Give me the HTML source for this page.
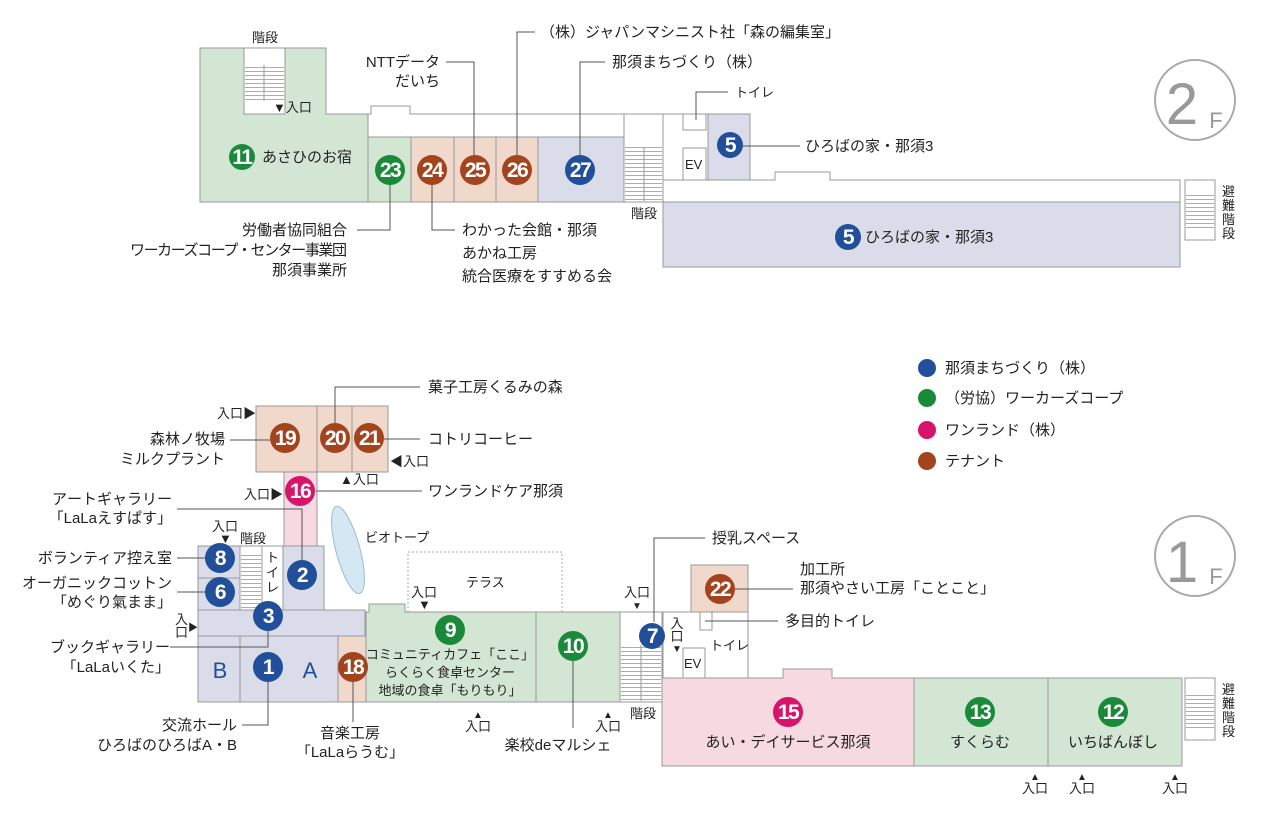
<!DOCTYPE html>
<html><head><meta charset="utf-8"><style>
body{margin:0;background:#fff}
svg{display:block;font-family:"Liberation Sans","Noto Sans CJK JP",sans-serif}
.g{fill:#d3e6d3;stroke:#999;stroke-width:1}
.p{fill:#f0d9cb;stroke:#999;stroke-width:1}
.b{fill:#dadcea;stroke:#999;stroke-width:1}
.k{fill:#f6d9e1;stroke:#999;stroke-width:1}
.w{fill:#fff;stroke:#999;stroke-width:1}
.ln{fill:none;stroke:#555;stroke-width:1}
.t{font-size:15px;fill:#222}
.s{font-size:13px;fill:#222}
.n{font-size:21px;fill:#fff;text-anchor:middle;font-weight:bold;letter-spacing:-1.5px}
</style></head><body>
<svg width="1280" height="817" viewBox="0 0 1280 817">
<defs>
<pattern id="st" width="10" height="4" patternUnits="userSpaceOnUse"><rect width="10" height="4" fill="#fff"/><line x1="0" y1="3.5" x2="10" y2="3.5" stroke="#999" stroke-width="0.8"/></pattern>
</defs>
<!-- 2F -->
<polygon class="g" points="200,48 326,48 326,114 368,114 368,202 200,202"/>
<rect class="w" x="244" y="48" width="41" height="66"/>
<rect x="245" y="65" width="39" height="36" fill="url(#st)"/>
<line x1="264" y1="65" x2="264" y2="101" stroke="#999"/>
<polyline class="ln" style="stroke:#999" points="368,114 371,114 371,106 410,106 410,114 624,114"/>
<rect class="g" x="368" y="137" width="43" height="65"/>
<rect class="p" x="411" y="137" width="43" height="65"/>
<rect class="p" x="454" y="137" width="42" height="65"/>
<rect class="p" x="496" y="137" width="42" height="65"/>
<rect class="b" x="538" y="137" width="86" height="65"/>
<rect class="w" x="624" y="114" width="39" height="88"/>
<rect x="625" y="147" width="37" height="54" fill="url(#st)"/>
<line x1="644" y1="147" x2="644" y2="201" stroke="#999"/>
<rect class="w" x="663" y="114" width="45" height="66"/>
<rect class="w" x="683" y="114" width="23" height="16"/>
<rect class="w" x="683" y="148" width="23" height="32"/>
<text class="s" x="685" y="169">EV</text>
<rect class="b" x="708" y="114" width="42" height="66"/>
<polyline class="ln" style="stroke:#999" points="750,180 775,180 775,172 830,172 830,180 1180,180 1180,202"/>
<rect class="b" x="663" y="202" width="517" height="65"/>
<line x1="663" y1="180" x2="663" y2="202" stroke="#999"/>
<rect class="w" x="1185" y="180" width="30" height="60"/>
<rect x="1186" y="195" width="28" height="35" fill="url(#st)"/>
<circle cx="1195" cy="100" r="40" fill="none" stroke="#aaa" stroke-width="2"/>
<text x="1182" y="124" font-size="58" fill="#999" text-anchor="middle">2</text>
<text x="1216" y="128" font-size="22" fill="#999" text-anchor="middle">F</text>
<text class="s" x="252" y="42">階段</text>
<text class="s" x="273" y="112">▼入口</text>
<circle cx="242" cy="157" r="13" fill="#1a8a3a"/><text class="n" x="242" y="164">11</text>
<text class="t" x="262" y="162">あさひのお宿</text>
<circle cx="390" cy="170" r="15" fill="#1a8a3a"/><text class="n" x="390" y="177">23</text>
<circle cx="432" cy="170" r="15" fill="#a3441f"/><text class="n" x="432" y="177">24</text>
<circle cx="475" cy="170" r="15" fill="#a3441f"/><text class="n" x="475" y="177">25</text>
<circle cx="517" cy="170" r="15" fill="#a3441f"/><text class="n" x="517" y="177">26</text>
<circle cx="580" cy="170" r="15" fill="#214f9a"/><text class="n" x="580" y="177">27</text>
<polyline class="ln" points="446,62 474,62 474,155"/>
<polyline class="ln" points="535,32 517,32 517,155"/>
<polyline class="ln" points="605,62 580,62 580,155"/>
<polyline class="ln" points="357,230 390,230 390,185"/>
<polyline class="ln" points="432,185 432,230 455,230"/>
<text class="t" x="440" y="67" text-anchor="end">NTTデータ</text>
<text class="t" x="440" y="86" text-anchor="end">だいち</text>
<text class="t" x="540" y="37">（株）ジャパンマシニスト社「森の編集室」</text>
<text class="t" x="612" y="67">那須まちづくり（株）</text>
<text class="t" x="347" y="235" text-anchor="end">労働者協同組合</text>
<text class="t" x="347" y="255" text-anchor="end" textLength="217">ワーカーズコープ・センター事業団</text>
<text class="t" x="347" y="275" text-anchor="end">那須事業所</text>
<text class="t" x="462" y="235">わかった会館・那須</text>
<text class="t" x="462" y="258">あかね工房</text>
<text class="t" x="462" y="281">統合医療をすすめる会</text>
<text class="s" x="631" y="218">階段</text>
<polyline class="ln" points="696,120 696,92 728,92"/>
<text class="s" x="735" y="97">トイレ</text>
<circle cx="730" cy="145" r="13" fill="#214f9a"/><text class="n" x="730" y="152">5</text>
<line class="ln" x1="743" y1="146" x2="800" y2="146"/>
<text class="t" x="805" y="151">ひろばの家・那須3</text>
<circle cx="848" cy="237" r="13" fill="#214f9a"/><text class="n" x="848" y="244">5</text>
<text class="t" x="865" y="242">ひろばの家・那須3</text>
<text class="s" x="1222" y="196">避</text><text class="s" x="1222" y="210">難</text><text class="s" x="1222" y="224">階</text><text class="s" x="1222" y="238">段</text>

<!-- Legend -->
<circle cx="927" cy="368" r="9" fill="#214f9a"/><text class="t" x="945" y="373">那須まちづくり（株）</text>
<circle cx="927" cy="398" r="9" fill="#1a8a3a"/><text class="t" x="945" y="403">（労協）ワーカーズコープ</text>
<circle cx="927" cy="430" r="9" fill="#d6146a"/><text class="t" x="945" y="435">ワンランド（株）</text>
<circle cx="927" cy="461" r="9" fill="#a3441f"/><text class="t" x="945" y="466">テナント</text>

<!-- 1F -->
<rect class="p" x="256" y="406" width="132" height="66"/>
<line x1="317" y1="406" x2="317" y2="472" stroke="#999"/>
<line x1="352" y1="406" x2="352" y2="472" stroke="#999"/>
<rect class="k" x="284" y="472" width="33" height="74"/>
<ellipse cx="348" cy="550" rx="12" ry="45" transform="rotate(-15 348 550)" fill="#d4e8f4" stroke="#9bc"/>
<rect x="408" y="552" width="154" height="60" fill="none" stroke="#aaa" stroke-dasharray="2,2"/>
<polygon class="b" points="198,546 324,546 324,610 365,610 365,636 338,636 338,702 198,702"/>
<rect class="b" x="198" y="546" width="42" height="32"/>
<rect class="b" x="198" y="578" width="42" height="32"/>
<rect class="w" x="240" y="546" width="22" height="64"/>
<rect x="241" y="555" width="20" height="54" fill="url(#st)"/>
<rect class="w" x="262" y="546" width="21" height="64"/>
<text class="s" x="266" y="562">ト</text><text class="s" x="266" y="577">イ</text><text class="s" x="266" y="592">レ</text>
<rect class="b" x="283" y="546" width="41" height="64"/>
<line x1="198" y1="636" x2="338" y2="636" stroke="#999"/>
<line x1="240" y1="636" x2="240" y2="702" stroke="#999"/>
<rect class="p" x="338" y="636" width="28" height="66"/>
<polygon class="g" points="366,612 369,612 369,604 405,604 405,612 536,612 536,702 366,702"/>
<rect class="g" x="536" y="612" width="84" height="90"/>
<rect class="w" x="620" y="612" width="42" height="90"/>
<rect x="621" y="645" width="40" height="56" fill="url(#st)"/>
<line x1="641" y1="645" x2="641" y2="701" stroke="#999"/>
<rect class="p" x="691" y="565" width="57" height="47"/>
<rect class="w" x="663" y="612" width="85" height="66"/>
<rect class="w" x="700" y="612" width="12" height="18"/>
<rect class="w" x="683" y="648" width="22" height="30"/>
<text class="s" x="684" y="668">EV</text>
<text class="s" x="710" y="650">トイレ</text>
<polygon class="k" points="662,678 783,678 783,669 832,669 832,678 914,678 914,766 662,766"/>
<rect class="g" x="914" y="678" width="134" height="88"/>
<rect class="g" x="1048" y="678" width="134" height="88"/>
<rect class="w" x="1185" y="678" width="30" height="62"/>
<rect x="1186" y="694" width="28" height="36" fill="url(#st)"/>
<circle cx="1195" cy="556" r="40" fill="none" stroke="#aaa" stroke-width="2"/>
<text x="1182" y="582" font-size="58" fill="#999" text-anchor="middle">1</text>
<text x="1216" y="584" font-size="22" fill="#999" text-anchor="middle">F</text>

<circle cx="285" cy="438" r="15" fill="#a3441f"/><text class="n" x="285" y="445">19</text>
<circle cx="335" cy="438" r="15" fill="#a3441f"/><text class="n" x="335" y="445">20</text>
<circle cx="369" cy="438" r="15" fill="#a3441f"/><text class="n" x="369" y="445">21</text>
<circle cx="300" cy="491" r="15" fill="#d6146a"/><text class="n" x="300" y="498">16</text>
<circle cx="220" cy="558" r="15" fill="#214f9a"/><text class="n" x="220" y="565">8</text>
<circle cx="220" cy="592" r="15" fill="#214f9a"/><text class="n" x="220" y="599">6</text>
<circle cx="302" cy="575" r="15" fill="#214f9a"/><text class="n" x="302" y="582">2</text>
<circle cx="268" cy="616" r="15" fill="#214f9a"/><text class="n" x="268" y="623">3</text>
<circle cx="268" cy="667" r="15" fill="#214f9a"/><text class="n" x="268" y="674">1</text>
<circle cx="353" cy="667" r="15" fill="#a3441f"/><text class="n" x="353" y="674">18</text>
<circle cx="450" cy="630" r="15" fill="#1a8a3a"/><text class="n" x="450" y="637">9</text>
<circle cx="573" cy="646" r="15" fill="#1a8a3a"/><text class="n" x="573" y="653">10</text>
<circle cx="652" cy="636" r="13" fill="#214f9a"/><text class="n" x="652" y="643">7</text>
<circle cx="720" cy="589" r="15" fill="#a3441f"/><text class="n" x="720" y="596">22</text>
<circle cx="788" cy="712" r="15" fill="#d6146a"/><text class="n" x="788" y="719">15</text>
<circle cx="980" cy="712" r="15" fill="#1a8a3a"/><text class="n" x="980" y="719">13</text>
<circle cx="1113" cy="712" r="15" fill="#1a8a3a"/><text class="n" x="1113" y="719">12</text>
<text x="220" y="678" font-size="22" fill="#214f9a" text-anchor="middle">B</text>
<text x="310" y="678" font-size="22" fill="#214f9a" text-anchor="middle">A</text>

<polyline class="ln" points="335,423 335,387 420,387"/>
<line class="ln" x1="230" y1="440" x2="270" y2="440"/>
<line class="ln" x1="384" y1="439" x2="420" y2="439"/>
<line class="ln" x1="316" y1="491" x2="422" y2="491"/>
<polyline class="ln" points="177,509 302,509 302,560"/>
<line class="ln" x1="177" y1="558" x2="205" y2="558"/>
<line class="ln" x1="177" y1="592" x2="205" y2="592"/>
<polyline class="ln" points="170,647 268,647 268,631"/>
<polyline class="ln" points="242,725 268,725 268,682"/>
<line class="ln" x1="353" y1="682" x2="353" y2="722"/>
<line class="ln" x1="573" y1="661" x2="573" y2="728"/>
<polyline class="ln" points="654,622 654,538 705,538"/>
<line class="ln" x1="735" y1="589" x2="793" y2="589"/>
<line class="ln" x1="705" y1="621" x2="778" y2="621"/>

<text class="t" x="428" y="392">菓子工房くるみの森</text>
<text class="s" x="217" y="418">入口▶</text>
<text class="t" x="225" y="444" text-anchor="end">森林ノ牧場</text>
<text class="t" x="225" y="464" text-anchor="end">ミルクプラント</text>
<text class="t" x="428" y="444">コトリコーヒー</text>
<text class="s" x="390" y="466">◀入口</text>
<text class="s" x="340" y="484">▲入口</text>
<text class="s" x="244" y="499">入口▶</text>
<text class="t" x="428" y="496">ワンランドケア那須</text>
<text class="s" x="365" y="542">ビオトープ</text>
<text class="s" x="466" y="587">テラス</text>
<text class="s" x="411" y="597">入口</text><text class="s" x="418" y="609" font-size="10">▼</text>
<text class="t" x="172" y="504" text-anchor="end">アートギャラリー</text>
<text class="t" x="172" y="523" text-anchor="end">「LaLaえすぱす」</text>
<text class="s" x="212" y="531">入口</text><text class="s" x="219" y="543" font-size="10">▼</text>
<text class="s" x="240" y="543">階段</text>
<text class="t" x="172" y="563" text-anchor="end">ボランティア控え室</text>
<text class="t" x="172" y="588" text-anchor="end">オーガニックコットン</text>
<text class="t" x="172" y="607" text-anchor="end">「めぐり氣まま」</text>
<text class="s" x="175" y="624">入</text><text class="s" x="175" y="637">口</text><text x="188" y="631" font-size="10" fill="#222">▶</text>
<text class="t" x="170" y="652" text-anchor="end">ブックギャラリー</text>
<text class="t" x="170" y="672" text-anchor="end">「LaLaいくた」</text>
<text class="t" x="237" y="730" text-anchor="end">交流ホール</text>
<text class="t" x="237" y="750" text-anchor="end">ひろばのひろばA・B</text>
<text class="t" x="350" y="738" text-anchor="middle">音楽工房</text>
<text class="t" x="350" y="757" text-anchor="middle">「LaLaらうむ」</text>
<text class="s" x="450" y="659" text-anchor="middle">コミュニティカフェ「ここ」</text>
<text class="s" x="450" y="677" text-anchor="middle">らくらく食卓センター</text>
<text class="s" x="450" y="695" text-anchor="middle">地域の食卓「もりもり」</text>
<text x="478" y="718" font-size="10" fill="#222" text-anchor="middle">▲</text><text class="s" x="478" y="731" text-anchor="middle">入口</text>
<text x="608" y="718" font-size="10" fill="#222" text-anchor="middle">▲</text><text class="s" x="608" y="731" text-anchor="middle">入口</text>
<text class="t" x="558" y="750" text-anchor="middle">楽校deマルシェ</text>
<text class="s" x="643" y="718" text-anchor="middle">階段</text>
<text class="t" x="712" y="543">授乳スペース</text>
<text class="t" x="800" y="574">加工所</text>
<text class="t" x="800" y="593">那須やさい工房「ことこと」</text>
<text class="t" x="785" y="626">多目的トイレ</text>
<text class="s" x="637" y="597" text-anchor="middle">入口</text><text x="637" y="609" font-size="10" fill="#222" text-anchor="middle">▼</text>
<text class="s" x="677" y="628" text-anchor="middle">入</text><text class="s" x="677" y="641" text-anchor="middle">口</text><text x="677" y="652" font-size="10" fill="#222" text-anchor="middle">▼</text>
<text class="t" x="788" y="747" text-anchor="middle">あい・デイサービス那須</text>
<text class="t" x="980" y="747" text-anchor="middle">すくらむ</text>
<text class="t" x="1113" y="747" text-anchor="middle">いちばんぼし</text>
<text x="1035" y="780" font-size="10" fill="#222" text-anchor="middle">▲</text><text class="s" x="1035" y="793" text-anchor="middle">入口</text>
<text x="1082" y="780" font-size="10" fill="#222" text-anchor="middle">▲</text><text class="s" x="1082" y="793" text-anchor="middle">入口</text>
<text x="1175" y="780" font-size="10" fill="#222" text-anchor="middle">▲</text><text class="s" x="1175" y="793" text-anchor="middle">入口</text>
<text class="s" x="1222" y="694">避</text><text class="s" x="1222" y="708">難</text><text class="s" x="1222" y="722">階</text><text class="s" x="1222" y="736">段</text>
</svg>
</body></html>
